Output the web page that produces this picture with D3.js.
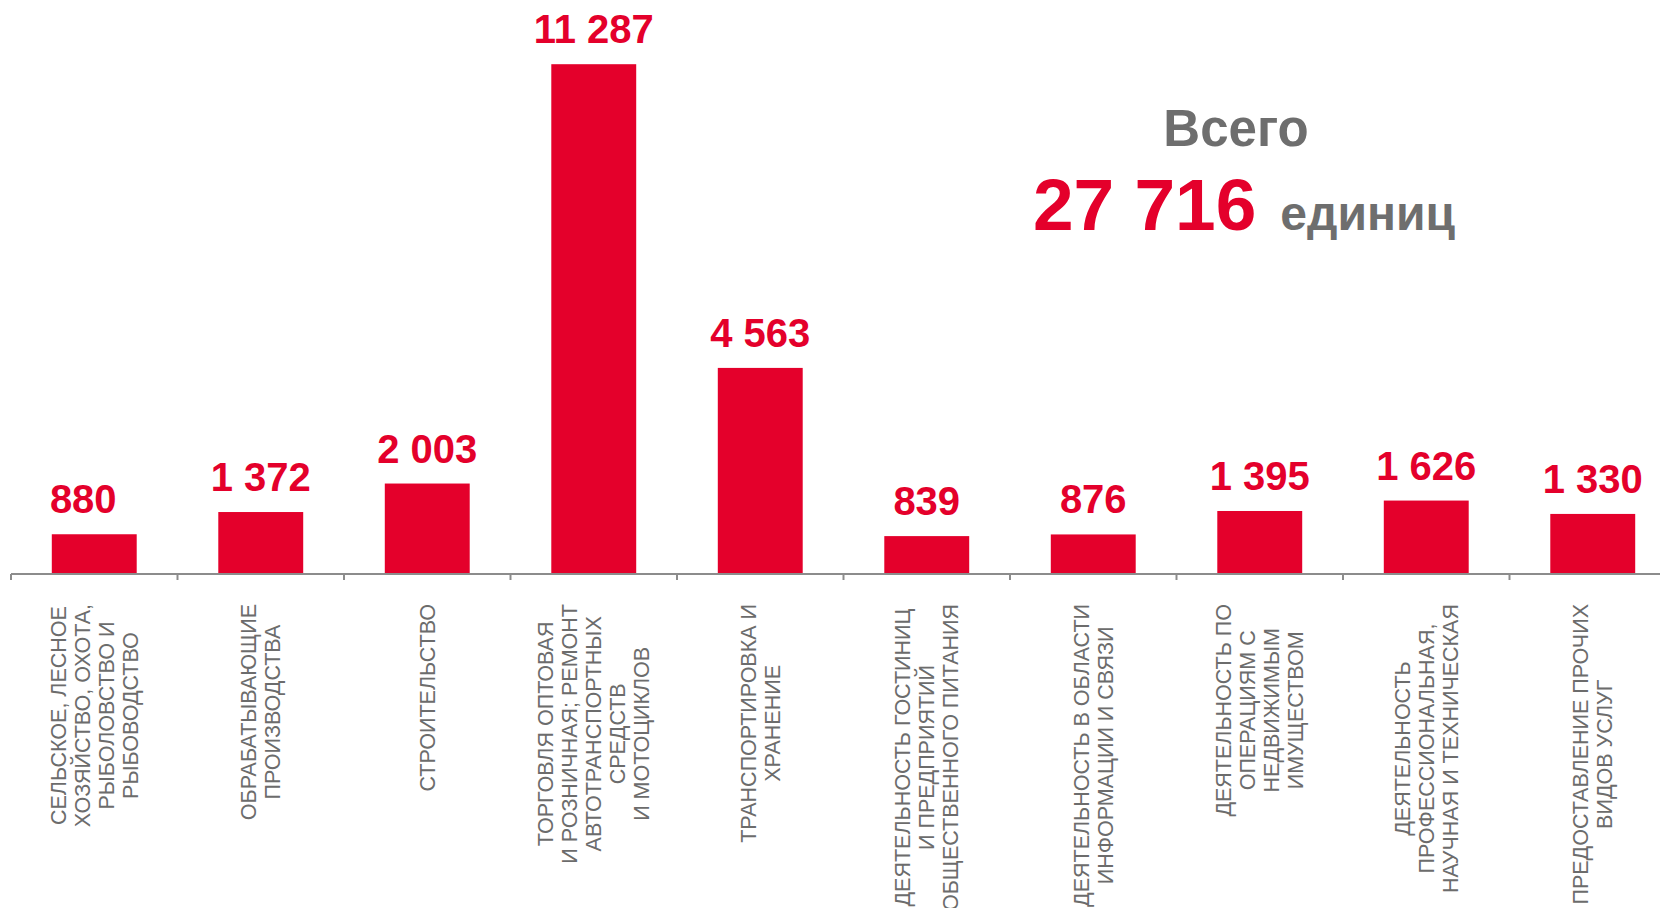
<!DOCTYPE html>
<html>
<head>
<meta charset="utf-8">
<script src="https://cdn.jsdelivr.net/npm/d3@7"></script>
<style>
    body { margin: 0; background: #ffffff; }
    svg  { display: block; font-family: Arial, 'Liberation Sans', sans-serif; }
    .axisLine  { stroke: #8c8c8c; stroke-width: 2; }
    .tickMark  { stroke: #8c8c8c; stroke-width: 2; }
    .bar       { fill: #e4002b; }
    .valueLbl  { fill: #e4002b; font-weight: bold; font-size: 40px; text-anchor: middle; }
    .catLbl    { fill: #6c6c6c; font-size: 21.5px; text-anchor: middle; }
</style>
</head>
<body>
<div id="graph"></div>
<script>

//
// Data...
//
var categories = [
    ['СЕЛЬСКОЕ, ЛЕСНОЕ', 'ХОЗЯЙСТВО, ОХОТА,', 'РЫБОЛОВСТВО И', 'РЫБОВОДСТВО'],
    ['ОБРАБАТЫВАЮЩИЕ', 'ПРОИЗВОДСТВА'],
    ['СТРОИТЕЛЬСТВО'],
    ['ТОРГОВЛЯ ОПТОВАЯ', 'И РОЗНИЧНАЯ; РЕМОНТ', 'АВТОТРАНСПОРТНЫХ', 'СРЕДСТВ', 'И МОТОЦИКЛОВ'],
    ['ТРАНСПОРТИРОВКА И', 'ХРАНЕНИЕ'],
    ['ДЕЯТЕЛЬНОСТЬ ГОСТИНИЦ', 'И ПРЕДПРИЯТИЙ', 'ОБЩЕСТВЕННОГО ПИТАНИЯ'],
    ['ДЕЯТЕЛЬНОСТЬ В ОБЛАСТИ', 'ИНФОРМАЦИИ И СВЯЗИ'],
    ['ДЕЯТЕЛЬНОСТЬ ПО', 'ОПЕРАЦИЯМ С', 'НЕДВИЖИМЫМ', 'ИМУЩЕСТВОМ'],
    ['ДЕЯТЕЛЬНОСТЬ', 'ПРОФЕССИОНАЛЬНАЯ,', 'НАУЧНАЯ И ТЕХНИЧЕСКАЯ'],
    ['ПРЕДОСТАВЛЕНИЕ ПРОЧИХ', 'ВИДОВ УСЛУГ']
];

var values = [880, 1372, 2003, 11287, 4563, 839, 876, 1395, 1626, 1330];

var totalTitle = 'Всего';
var totalValue = 27716;
var totalUnit  = 'единиц';


//
// D3 Stuff...
//
var width  = 1660;
var height = 908;
var axisY  = 574;
var step   = 166.5;
var x0     = 11;

var fmt = d3.formatLocale ({ decimal: ',', thousands: ' ', grouping: [3], currency: ['', ''] }).format (',d');

var idx = d3.range (values.length);

var xScale = d3.scaleBand ()
               .domain (idx)
               .range ([x0, x0 + step * values.length])
               .paddingInner (0.49)
               .paddingOuter (0.245);

var yScale = d3.scaleLinear ()
               .domain ([0, 12000])
               .range ([axisY, 32]);

var svg = d3.select ('div#graph')
            .append ('svg')
            .attr ('width', width)
            .attr ('height', height);

// bars
svg.selectAll ('.bar')
   .data (idx)
   .enter ()
   .append ('rect')
   .attr ('class', 'bar')
   .attr ('x', function (i) { return xScale (i); })
   .attr ('y', function (i) { return yScale (values[i]); })
   .attr ('width', xScale.bandwidth ())
   .attr ('height', function (i) { return axisY - yScale (values[i]); });

// axis line + ticks at category boundaries
svg.append ('line')
   .attr ('class', 'axisLine')
   .attr ('x1', x0)
   .attr ('x2', width)
   .attr ('y1', axisY)
   .attr ('y2', axisY);

svg.selectAll ('.tickMark')
   .data (d3.range (values.length + 1))
   .enter ()
   .append ('line')
   .attr ('class', 'tickMark')
   .attr ('x1', function (i) { return x0 + step * i; })
   .attr ('x2', function (i) { return x0 + step * i; })
   .attr ('y1', axisY)
   .attr ('y2', axisY + 6);

// value labels (the first one sits a bit left of its bar in the original)
svg.selectAll ('.valueLbl')
   .data (idx)
   .enter ()
   .append ('text')
   .attr ('class', 'valueLbl')
   .attr ('x', function (i) { return xScale (i) + xScale.bandwidth () / 2 + (i === 0 ? -11 : 0); })
   .attr ('y', function (i) { return yScale (values[i]) - 21; })
   .text (function (i) { return fmt (values[i]); });

//
// Category labels (rotated, lines centered inside a block hanging from the axis)
//
var labelTop  = 604;
var lineStep  = 24;

idx.forEach (function (i)
{
    var lines  = categories[i];
    var cx     = xScale (i) + xScale.bandwidth () / 2;
    var g      = svg.append ('g');

    var texts = lines.map (function (s, k)
    {
        return g.append ('text')
                .attr ('class', 'catLbl')
                .attr ('dy', '0.35em')
                .text (s);
    });

    var maxLen = d3.max (texts, function (t) { return t.node ().getComputedTextLength (); });
    var cy     = labelTop + maxLen / 2;

    texts.forEach (function (t, k)
    {
        var lx = cx + (k - (lines.length - 1) / 2) * lineStep;
        t.attr ('transform', 'translate(' + lx + ',' + cy + ') rotate(-90)');
    });
});

//
// Total...
//
svg.append ('text')
   .attr ('x', 1236)
   .attr ('y', 146)
   .style ('text-anchor', 'middle')
   .style ('font-weight', 'bold')
   .style ('font-size', '51px')
   .style ('fill', '#6e6e6e')
   .text (totalTitle);

var totalText = svg.append ('text')
                   .attr ('x', 1033)
                   .attr ('y', 230)
                   .style ('font-weight', 'bold');

totalText.append ('tspan')
         .style ('font-size', '73px')
         .style ('fill', '#e4002b')
         .text (fmt (totalValue));

totalText.append ('tspan')
         .attr ('dx', 24)
         .style ('font-size', '48px')
         .style ('fill', '#6e6e6e')
         .text (totalUnit);

</script>
</body>
</html>
